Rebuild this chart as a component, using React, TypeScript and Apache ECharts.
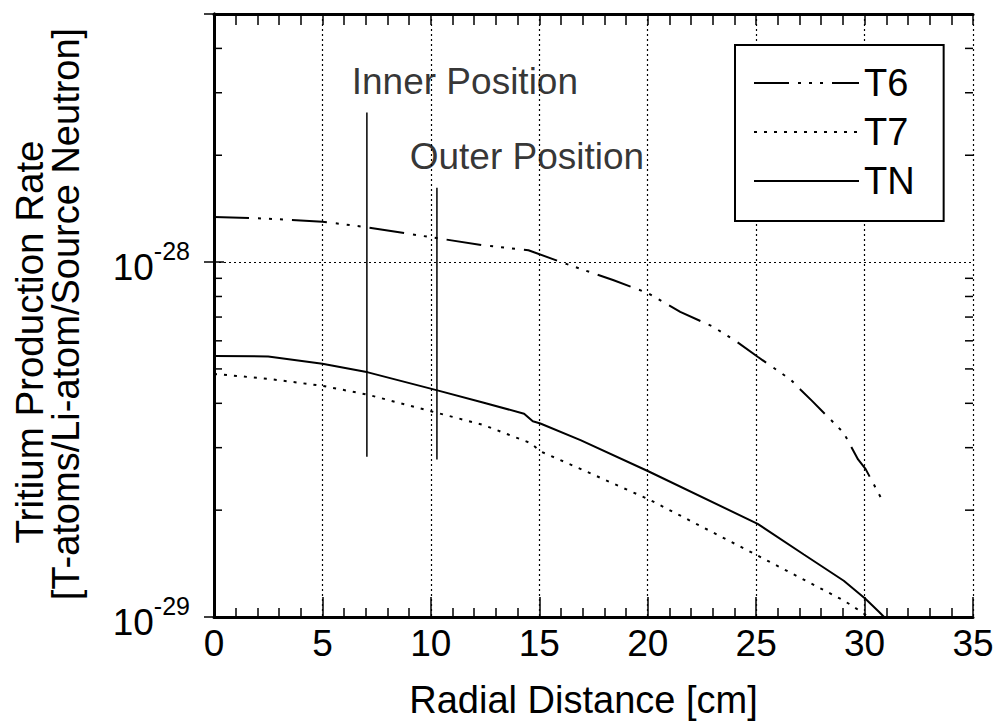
import React, { useEffect, useRef } from "react";
import * as echarts from "echarts";

// ---- data (radial distance in cm, rate in T-atoms/Li-atom/source neutron)
const T6_X = [0, 2.5, 5, 7, 10, 12.4, 14.5, 16, 18.4, 20, 21.5, 23.0, 24.1, 25.07, 26.6, 27.05, 27.6, 28.2, 28.67, 29.04, 29.7, 30.05, 30.75];
const T6_Y = [1.34e-28, 1.325e-28, 1.30e-28, 1.255e-28, 1.175e-28, 1.116e-28, 1.08e-28, 1.0e-28, 0.89e-28, 0.818e-28, 0.724e-28, 0.658e-28, 0.597e-28, 0.541e-28, 0.466e-28, 0.437e-28, 0.405e-28, 0.372e-28, 0.348e-28, 0.330e-28, 0.278e-28, 0.261e-28, 0.217e-28];

const T7_X = [0, 2.5, 5, 7.1, 10, 12.4, 14.6, 15.05, 16.8, 20.05, 25.07, 28.9, 29.3, 30.2];
const T7_Y = [4.84e-29, 4.69e-29, 4.48e-29, 4.23e-29, 3.80e-29, 3.48e-29, 3.09e-29, 2.93e-29, 2.63e-29, 2.145e-29, 1.49e-29, 1.124e-29, 1.088e-29, 1.0e-29];

const TN_X = [0, 2.5, 5, 7.1, 10.3, 12.4, 14.3, 14.7, 15.05, 16.9, 20.05, 25.07, 27.2, 29.04, 30.05, 30.66, 30.9];
const TN_Y = [5.44e-29, 5.42e-29, 5.17e-29, 4.89e-29, 4.35e-29, 4.02e-29, 3.74e-29, 3.56e-29, 3.51e-29, 3.15e-29, 2.57e-29, 1.83e-29, 1.50e-29, 1.265e-29, 1.124e-29, 1.035e-29, 1.0e-29];

const INNER_X = 7.05;
const INNER_Y = [2.83e-29, 2.64e-28];
const OUTER_X = 10.28;
const OUTER_Y = [2.78e-29, 1.62e-28];

const X_MIN = 0;
const X_MAX = 35;
const X_STEP = 5;
const Y_MIN = 1e-29;
const Y_MAX = 5e-28;
const Y_MINOR = [2e-29, 3e-29, 4e-29, 5e-29, 6e-29, 7e-29, 8e-29, 9e-29, 2e-28, 3e-28, 4e-28];

const X_TITLE = "Radial Distance [cm]";
const Y_TITLE_1 = "Tritium Production Rate";
const Y_TITLE_2 = "[T-atoms/Li-atom/Source Neutron]";

// plotting unit (the library's log scale works in multiples of 1e-29)
const UNIT = 1e-29;
const u = (v: number) => v / UNIT;
const zip = (xs: number[], ys: number[]) => xs.map((x, i) => [x, u(ys[i])]);

const FONT = '"Liberation Sans", Arial, Helvetica, sans-serif';

export default function App() {
  const ref = useRef<HTMLDivElement>(null);

  useEffect(() => {
    if (!ref.current) return;
    const chart = echarts.init(ref.current, null, { renderer: "svg" });

    const axisLineStyle = { color: "#000", width: 3 };
    const tickStyle = { color: "#000", width: 1.5 };

    const option: any = {
      animation: false,
      backgroundColor: "#fff",
      grid: { left: 214, right: 26, top: 14, bottom: 106, containLabel: false },
      legend: {
        data: ["T6", "T7", "TN"],
        orient: "vertical",
        left: 735,
        top: 45,
        itemWidth: 105,
        itemHeight: 1,
        itemGap: 9,
        padding: [18, 29, 20, 18],
        borderColor: "#000",
        borderWidth: 2,
        backgroundColor: "#fff",
        textStyle: { fontSize: 38, lineHeight: 40, color: "#000", fontFamily: FONT },
      },
      xAxis: [
        {
          type: "value",
          min: X_MIN,
          max: X_MAX,
          interval: X_STEP,
          position: "bottom",
          name: X_TITLE,
          nameLocation: "middle",
          nameGap: 64,
          nameTextStyle: { fontSize: 38, color: "#000", fontFamily: FONT, padding: [0, 20, 0, 0] },
          axisLine: { show: true, lineStyle: axisLineStyle },
          axisTick: { show: true, inside: true, length: 20, lineStyle: tickStyle },
          minorTick: { show: true, splitNumber: 5, length: 9, lineStyle: tickStyle },
          axisLabel: { fontSize: 37, color: "#000", fontFamily: FONT, margin: 8 },
          splitLine: { show: true, lineStyle: { color: "#000", width: 1.2, type: [2, 3] } },
        },
        {
          type: "value",
          min: X_MIN,
          max: X_MAX,
          interval: X_STEP,
          position: "top",
          axisLine: { show: true, lineStyle: axisLineStyle },
          axisTick: { show: true, inside: true, length: 11, lineStyle: tickStyle },
          minorTick: { show: true, splitNumber: 5, length: 11, lineStyle: tickStyle },
          axisLabel: { show: false },
          splitLine: { show: false },
        },
      ],
      yAxis: [
        {
          type: "log",
          logBase: 10,
          min: u(Y_MIN),
          max: u(Y_MAX),
          position: "left",
          axisLine: { show: true, lineStyle: axisLineStyle },
          axisTick: { show: true, inside: true, length: 10, lineStyle: tickStyle },
          axisLabel: {
            margin: 24,
            formatter: (val: number) => {
              const e = Math.log10(val * UNIT);
              const r = Math.round(e);
              if (Math.abs(e - r) > 1e-6) return "";
              return `{b|10}{s|${r}}`;
            },
            rich: {
              b: { fontSize: 37, color: "#000", fontFamily: FONT, verticalAlign: "bottom" },
              s: { fontSize: 25, color: "#000", fontFamily: FONT, verticalAlign: "bottom", padding: [0, 0, 22, 0] },
            },
          },
          splitLine: { show: true, lineStyle: { color: "#000", width: 1.2, type: [2, 3] } },
        },
        {
          type: "log",
          logBase: 10,
          min: u(Y_MIN),
          max: u(Y_MAX),
          position: "right",
          axisLine: { show: true, lineStyle: axisLineStyle },
          axisTick: { show: true, inside: true, length: 10, lineStyle: tickStyle },
          axisLabel: { show: false },
          splitLine: { show: false },
        },
      ],
      graphic: [
        {
          type: "text",
          x: 29,
          y: 342,
          rotation: Math.PI / 2,
          style: { text: Y_TITLE_1, fontSize: 38.5, fontFamily: FONT, fill: "#000", align: "center", verticalAlign: "middle" },
        },
        {
          type: "text",
          x: 66,
          y: 314,
          rotation: Math.PI / 2,
          style: { text: Y_TITLE_2, fontSize: 38, fontFamily: FONT, fill: "#000", align: "center", verticalAlign: "middle" },
        },
      ],
      series: [
        {
          name: "T6",
          type: "line",
          data: zip(T6_X, T6_Y),
          showSymbol: false,
          symbol: "none",
          lineStyle: { color: "#000", width: 2, type: [35, 9, 3, 8, 3, 8, 3, 9] },
          itemStyle: { color: "#000" },
          z: 3,
        },
        {
          name: "T7",
          type: "line",
          data: zip(T7_X, T7_Y),
          showSymbol: false,
          symbol: "none",
          lineStyle: { color: "#000", width: 2, type: [3, 7] },
          itemStyle: { color: "#000" },
          z: 3,
        },
        {
          name: "TN",
          type: "line",
          data: zip(TN_X, TN_Y),
          showSymbol: false,
          symbol: "none",
          lineStyle: { color: "#000", width: 2, type: "solid" },
          itemStyle: { color: "#000" },
          z: 3,
        },
        {
          name: "Inner Position line",
          type: "line",
          data: INNER_Y.map((v) => [INNER_X, u(v)]),
          showSymbol: false,
          symbol: "none",
          lineStyle: { color: "#000", width: 1.5 },
          z: 3,
        },
        {
          name: "Outer Position line",
          type: "line",
          data: OUTER_Y.map((v) => [OUTER_X, u(v)]),
          showSymbol: false,
          symbol: "none",
          lineStyle: { color: "#000", width: 1.5 },
          z: 3,
        },
        {
          name: "Position labels",
          type: "scatter",
          symbolSize: 0.1,
          itemStyle: { color: "rgba(0,0,0,0)" },
          data: [
            { value: [INNER_X, u(INNER_Y[1])], label: { formatter: "Inner Position", offset: [98, -11] } },
            { value: [OUTER_X, u(OUTER_Y[1])], label: { formatter: "Outer Position", offset: [90, -11] } },
          ],
          label: {
            show: true,
            position: "top",
            distance: 0,
            fontSize: 37,
            lineHeight: 40,
            color: "#000",
            fontFamily: FONT,
          },
          silent: true,
          z: 4,
        },
        {
          name: "minor y ticks",
          type: "custom",
          xAxisIndex: 0,
          yAxisIndex: 0,
          silent: true,
          data: Y_MINOR.map((v) => [X_MIN, u(v)]),
          renderItem: (params: any, api: any) => {
            const y = api.coord([X_MIN, api.value(1)])[1];
            const cs = params.coordSys;
            return {
              type: "group",
              children: [
                { type: "line", shape: { x1: cs.x, y1: y, x2: cs.x + 8, y2: y }, style: { stroke: "#000", lineWidth: 1.5 } },
                { type: "line", shape: { x1: cs.x + cs.width - 8, y1: y, x2: cs.x + cs.width, y2: y }, style: { stroke: "#000", lineWidth: 1.5 } },
              ],
            };
          },
          z: 5,
        },
      ],
    };

    chart.setOption(option);
    return () => chart.dispose();
  }, []);

  return <div ref={ref} style={{ width: 999, height: 724, position: "absolute", left: 0, top: 0 }} />;
}
